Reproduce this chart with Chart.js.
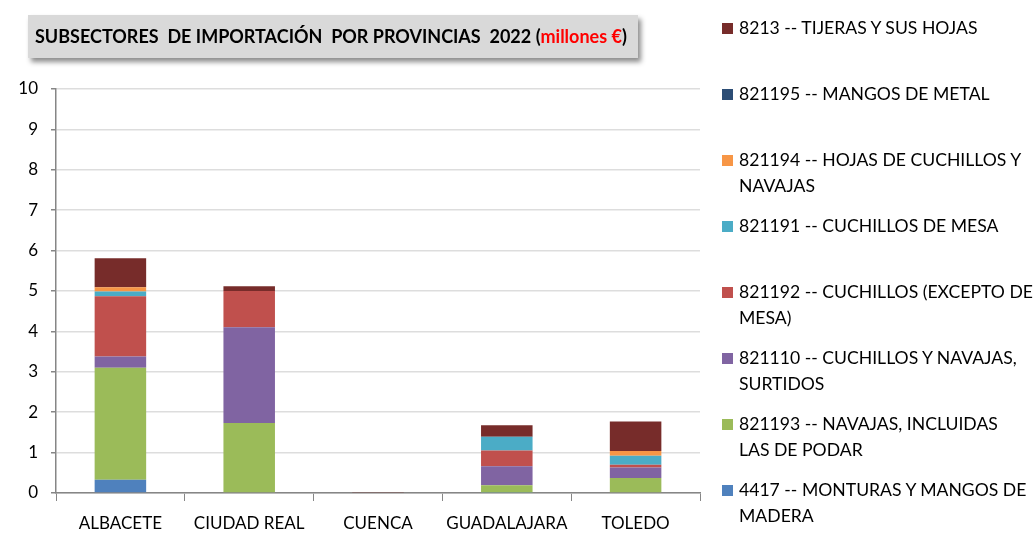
<!DOCTYPE html>
<html>
<head>
<meta charset="utf-8">
<script src="https://cdn.jsdelivr.net/npm/chart.js@4"></script>
<style>
  body { margin: 0; background: #fff; }
  #wrap { position: relative; width: 1036px; height: 543px; overflow: hidden; font-family: Lato, "Open Sans", sans-serif; }
  #grafico { position: absolute; left: 0; top: 0; }
  #titulo {
    position: absolute; left: 28px; top: 15px; width: 610px; height: 43px;
    background: #d9d9d9; box-shadow: 3px 4px 5px rgba(0,0,0,0.45);
    font-weight: bold; font-size: 18px; line-height: 43px; padding-left: 7px; box-sizing: border-box;
    color: #000; white-space: nowrap;
  }
  #titulo span { color: #ff0000; }
  #leyenda { position: absolute; left: 722px; top: 15px; width: 314px; }
  .item { position: relative; height: 66px; font-size: 17.6px; line-height: 26px; color: #000; padding-left: 17px; white-space: nowrap; }
  .caja { position: absolute; left: 0; top: 8px; width: 11px; height: 11px; }
</style>
</head>
<body>
<div id="wrap">
  <canvas id="grafico" width="1036" height="543"></canvas>
  <div id="titulo">SUBSECTORES&nbsp; DE IMPORTACIÓN&nbsp; POR PROVINCIAS&nbsp; 2022 (<span>millones €</span>)</div>
  <div id="leyenda"></div>
</div>
<script>
const provincias = ['ALBACETE', 'CIUDAD REAL', 'CUENCA', 'GUADALAJARA', 'TOLEDO'];

// series de abajo hacia arriba en la pila
const nombresSeries = [
    ['4417 -- MONTURAS Y MANGOS DE', 'MADERA'],
    ['821193 -- NAVAJAS, INCLUIDAS', 'LAS DE PODAR'],
    ['821110 -- CUCHILLOS Y NAVAJAS,', 'SURTIDOS'],
    ['821192 -- CUCHILLOS (EXCEPTO DE', 'MESA)'],
    ['821191 -- CUCHILLOS DE MESA'],
    ['821194 -- HOJAS DE CUCHILLOS Y', 'NAVAJAS'],
    ['821195 -- MANGOS DE METAL'],
    ['8213 -- TIJERAS Y SUS HOJAS']
];
const colores = ['#4F81BD', '#9BBB59', '#8064A2', '#C0504D', '#4BACC6', '#F79646', '#2C4D75', '#772C2A'];

const monturasMadera    = [0.33, 0.02, 0,    0.01, 0.02];
const navajasPodar      = [2.77, 1.71, 0,    0.18, 0.35];
const cuchillosSurtidos = [0.28, 2.37, 0,    0.47, 0.26];
const cuchillosExcepto  = [1.49, 0.90, 0,    0.39, 0.07];
const cuchillosMesa     = [0.12, 0,    0,    0.34, 0.22];
const hojasCuchillos    = [0.10, 0,    0,    0,    0.12];
const mangosMetal       = [0,    0,    0,    0,    0];
const tijerasHojas      = [0.72, 0.12, 0.01, 0.29, 0.73];

const valoresSeries = [monturasMadera, navajasPodar, cuchillosSurtidos, cuchillosExcepto,
                       cuchillosMesa, hojasCuchillos, mangosMetal, tijerasHojas];

const ticksY = [0, 1, 2, 3, 4, 5, 6, 7, 8, 9, 10];

const fuente = { family: 'Lato, "Open Sans", sans-serif', size: 17 };

const grafico = new Chart(document.getElementById('grafico'), {
    type: 'bar',
    data: {
        labels: provincias,
        datasets: valoresSeries.map((valores, i) => ({
            label: nombresSeries[i].join(' '),
            data: valores,
            backgroundColor: colores[i],
            borderWidth: 0,
            categoryPercentage: 0.8,
            barPercentage: 0.5
        }))
    },
    options: {
        responsive: false,
        animation: false,
        layout: { padding: { top: 89, right: 336, left: 0, bottom: 0 } },
        plugins: { legend: { display: false }, title: { display: false }, tooltip: { enabled: false } },
        scales: {
            x: {
                stacked: true,
                afterFit: (escala) => { escala.height = 50; },
                grid: { offset: true, drawOnChartArea: false, drawTicks: true, tickLength: 8, tickColor: '#868686' },
                border: { color: '#868686', width: 1.5 },
                ticks: { color: '#000', font: fuente, padding: 12 }
            },
            y: {
                stacked: true,
                min: 0,
                max: 10,
                afterFit: (escala) => { escala.width = 56; },
                afterBuildTicks: (escala) => { escala.ticks = ticksY.map((v) => ({ value: v })); },
                grid: { color: '#dddddd', lineWidth: 1.5, tickLength: 5, tickColor: '#868686' },
                border: { color: '#868686', width: 1.5 },
                ticks: { color: '#000', font: fuente, padding: 13 }
            }
        }
    }
});

// leyenda en orden inverso, como en la imagen
const leyenda = document.getElementById('leyenda');
grafico.data.datasets.slice().reverse().forEach((ds, k) => {
    const i = valoresSeries.length - 1 - k;
    const item = document.createElement('div');
    item.className = 'item';
    const caja = document.createElement('div');
    caja.className = 'caja';
    caja.style.background = ds.backgroundColor;
    item.appendChild(caja);
    nombresSeries[i].forEach((linea, j) => {
        if (j > 0) item.appendChild(document.createElement('br'));
        item.appendChild(document.createTextNode(linea));
    });
    leyenda.appendChild(item);
});
</script>
</body>
</html>
